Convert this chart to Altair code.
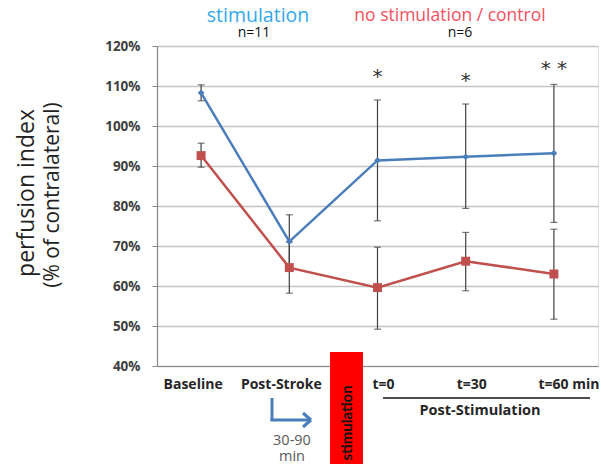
import altair as alt
import pandas as pd

categories = ["Baseline", "Post-Stroke", "t=0", "t=30", "t=60 min"]
stim_mean = [108.3, 71.1, 91.4, 92.3, 93.2]
stim_lo = [106.3, 64.4, 76.3, 79.4, 75.9]
stim_hi = [110.3, 77.8, 106.5, 105.5, 110.4]
ctrl_mean = [92.6, 64.6, 59.6, 66.2, 63.0]
ctrl_lo = [89.7, 58.2, 49.2, 58.8, 51.7]
ctrl_hi = [95.7, 71.0, 69.7, 73.4, 74.2]
star_idx = [2, 3, 4]
star_text = ["*", "*", "* *"]
star_y = [113.2, 112.2, 115.2]
y_ticks = [40, 50, 60, 70, 80, 90, 100, 110, 120]
groups = ["stimulation", "control"]

FONT = "Open Sans"
BLUE = "#4A7EBB"
RED = "#C0504D"

rows = []
for i, c in enumerate(categories):
    rows.append({"idx": i, "cat": c, "group": "stimulation", "mean": stim_mean[i], "lo": stim_lo[i], "hi": stim_hi[i]})
    rows.append({"idx": i, "cat": c, "group": "control", "mean": ctrl_mean[i], "lo": ctrl_lo[i], "hi": ctrl_hi[i]})
df = pd.DataFrame(rows)
cat_df = pd.DataFrame({"idx": list(range(len(categories))), "cat": categories})
star_df = pd.DataFrame({"idx": star_idx, "txt": star_text, "y": star_y})
one = pd.DataFrame({"a": [0]})

xscale = alt.Scale(domain=[-0.5, 4.5], nice=False, zero=False)
yscale = alt.Scale(domain=[40, 120], nice=False, zero=False)

x_axis = alt.Axis(labels=False, ticks=False, grid=False, title=None,
                  domainColor="#868686", domainWidth=1.2)
y_axis = alt.Axis(values=y_ticks, labelExpr="datum.value + '%'", title=None,
                  grid=True, gridColor="#C4C4C4", gridWidth=1.5,
                  domainColor="#868686", domainWidth=1.2, labelOverlap=False,
                  tickColor="#868686", tickSize=5, labelPadding=12,
                  labelFont=FONT, labelFontSize=13.5, labelFontWeight="bold",
                  labelColor="#404040")


def X(field):
    return alt.X(field, scale=xscale, axis=x_axis)


def Y(field):
    return alt.Y(field, scale=yscale, axis=y_axis)


color = alt.Color("group:N", scale=alt.Scale(domain=groups, range=[BLUE, RED]), legend=None)
shape = alt.Shape("group:N", scale=alt.Scale(domain=groups, range=["diamond", "square"]), legend=None)

base = alt.Chart(df)
lines = base.mark_line(strokeWidth=2.5).encode(x=X("idx:Q"), y=Y("mean:Q"), color=color, detail="group:N")
points = base.mark_point(filled=True, opacity=1).encode(
    x=X("idx:Q"), y=Y("mean:Q"), color=color, shape=shape,
    size=alt.Size("group:N", scale=alt.Scale(domain=groups, range=[45, 80]), legend=None))
err = base.mark_rule(color="#404040", strokeWidth=1.2).encode(x=X("idx:Q"), y=Y("lo:Q"), y2="hi:Q")
cap_lo = base.mark_tick(color="#404040", orient="horizontal", size=7, thickness=1.2).encode(x=X("idx:Q"), y=Y("lo:Q"))
cap_hi = base.mark_tick(color="#404040", orient="horizontal", size=7, thickness=1.2).encode(x=X("idx:Q"), y=Y("hi:Q"))


def xlab(filt, dx):
    return alt.Chart(cat_df).transform_filter(filt).mark_text(
        font=FONT, fontSize=14, fontWeight="bold", color="#262626",
        baseline="middle", dx=dx).encode(x=X("idx:Q"), y=alt.value(339), text="cat:N")


xlabels = [
    xlab("datum.idx <= 1", -8),
    xlab("datum.idx >= 2 && datum.idx <= 3", 6),
    xlab("datum.idx == 4", 15),
]
stars = alt.Chart(star_df).mark_text(font="DejaVu Sans", fontSize=20, color="#333333",
                                     baseline="middle", dy=4).encode(
    x=X("idx:Q"), y=Y("y:Q"), text="txt:N")


def label(txt, x, y, **kw):
    opts = dict(font=FONT, baseline="middle", align="center")
    opts.update(kw)
    return alt.Chart(one).mark_text(text=txt, **opts).encode(x=alt.value(x), y=alt.value(y))


def seg(x1, y1, x2, y2, col, w):
    return alt.Chart(one).mark_rule(color=col, strokeWidth=w).encode(
        x=alt.value(x1), y=alt.value(y1), x2=alt.value(x2), y2=alt.value(y2))


annots = [
    label("stimulation", 101, -30, fontSize=19.5, color="#33A8E8"),
    label("n=11", 97, -13, fontSize=14, color="#111111"),
    label("no stimulation / control", 293, -30, fontSize=17.5, color="#F4505E"),
    label("n=6", 303, -13, fontSize=14, color="#111111"),
    label("perfusion index", -130, 147, fontSize=23, color="#222222", angle=270),
    label("(% of contralateral)", -104, 149, fontSize=21, color="#222222", angle=270),
    alt.Chart(one).mark_rect(color="#FF0000").encode(
        x=alt.value(173), x2=alt.value(206), y=alt.value(306), y2=alt.value(430)),
    label("stimulation", 190, 377, font="Lato", fontSize=15, fontWeight="bold", color="#111111", angle=270),
    seg(115, 352, 115, 375, BLUE, 3),
    seg(113.5, 374, 154, 374, BLUE, 3),
    seg(146, 367, 154, 374, BLUE, 3),
    seg(146, 381, 154, 374, BLUE, 3),
    label("30-90", 135, 395, fontSize=14.5, color="#595959"),
    label("min", 135, 411, fontSize=14.5, color="#595959"),
    seg(226, 352, 433, 352, "#111111", 1.5),
    label("Post-Stimulation", 323, 365, fontSize=14.5, fontWeight="bold", color="#262626"),
]

chart = alt.layer(lines, err, cap_lo, cap_hi, points, *xlabels, stars, *annots).properties(
    width=441, height=320,
    autosize=alt.AutoSizeParams(type="none"),
    padding={"left": 149, "top": 38, "right": 9, "bottom": 98},
).configure_view(stroke=None).configure(background="white")

chart.save("out.html", embed_options={"renderer": "svg", "actions": False})
